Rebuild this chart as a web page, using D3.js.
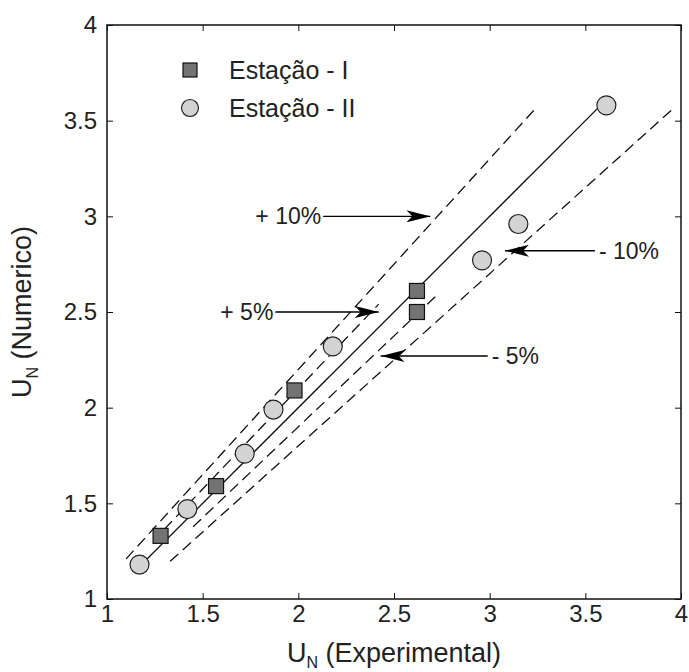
<!DOCTYPE html>
<html>
<head>
<meta charset="utf-8">
<script src="https://cdn.jsdelivr.net/npm/d3@7"></script>
<style>
  body { margin: 0; background: #fff; }
  text { font-family: "Liberation Sans", Arial, sans-serif; fill: #222; }
</style>
</head>
<body>
<svg id="svg1" width="689" height="672"></svg>
<script>
// Estação - I (squares)
var est1X = [1.28, 1.57, 1.98, 2.62, 2.62];
var est1Y = [1.33, 1.59, 2.09, 2.61, 2.50];
// Estação - II (circles)
var est2X = [1.17, 1.42, 1.72, 1.87, 2.18, 2.96, 3.15, 3.61];
var est2Y = [1.18, 1.47, 1.76, 1.99, 2.32, 2.77, 2.96, 3.58];

// reference lines y = k * x
var lineNames = ["+10%", "+5%", "0", "-5%", "-10%"];
var lineFactor = [1.10, 1.05, 1.00, 0.95, 0.90];
var lineFrom = [1.10, 1.30, 1.17, 1.45, 1.33];
var lineTo = [3.23, 2.42, 3.61, 2.72, 3.97];

// annotation arrows
var arrowText = ["+ 10%", "+ 5%", "- 10%", "- 5%"];
var arrowY = [3.0, 2.5, 2.82, 2.27];
var arrowStart = [2.13, 1.88, 3.55, 2.99];
var arrowTip = [2.69, 2.42, 3.08, 2.43];

var ticks = [1, 1.5, 2, 2.5, 3, 3.5, 4];

var svg = d3.select("#svg1"),
    margin = { top: 25, right: 8, bottom: 73, left: 107 },
    width = +svg.attr("width") - margin.left - margin.right,
    height = +svg.attr("height") - margin.top - margin.bottom,
    g = svg.append("g").attr("transform", "translate(" + margin.left + "," + margin.top + ")");

var x = d3.scaleLinear().domain([1, 4]).range([0, width]);
var y = d3.scaleLinear().domain([1, 4]).range([height, 0]);

function styleAxis(sel, hideText) {
    sel.select(".domain").remove();
    sel.selectAll(".tick line").attr("stroke", "#111");
    sel.selectAll(".tick text").style("font-size", "24px").attr("fill", "#222");
    if (hideText) sel.selectAll(".tick text").remove();
}

g.append("g")
    .attr("transform", "translate(0," + height + ")")
    .call(d3.axisBottom(x).tickValues(ticks).tickSize(-6).tickPadding(6).tickFormat(d3.format("")))
    .call(styleAxis, false);

g.append("g")
    .call(d3.axisLeft(y).tickValues(ticks).tickSize(-6).tickPadding(10).tickFormat(d3.format("")))
    .call(styleAxis, false);

g.append("g")
    .call(d3.axisTop(x).tickValues(ticks).tickSize(-6))
    .call(styleAxis, true);

g.append("g")
    .attr("transform", "translate(" + width + ",0)")
    .call(d3.axisRight(y).tickValues(ticks).tickSize(-6))
    .call(styleAxis, true);

g.append("rect")
    .attr("width", width)
    .attr("height", height)
    .attr("fill", "none")
    .attr("stroke", "#111")
    .attr("stroke-width", 1.5);

// reference lines
var lines = lineNames.map(function (n, i) {
    return { name: n, k: lineFactor[i], x0: lineFrom[i], x1: lineTo[i] };
});
g.selectAll(".ref")
    .data(lines)
    .enter().append("line")
    .attr("class", "ref")
    .attr("x1", function (d) { return x(d.x0); })
    .attr("y1", function (d) { return y(d.k * d.x0); })
    .attr("x2", function (d) { return x(d.x1); })
    .attr("y2", function (d) { return y(d.k * d.x1); })
    .attr("stroke", "#111")
    .attr("stroke-width", 1.3)
    .attr("stroke-dasharray", function (d) { return d.k === 1 ? null : "11,6"; });

// arrows
svg.append("defs").append("marker")
    .attr("id", "head")
    .attr("viewBox", "0 0 24 12")
    .attr("refX", 24)
    .attr("refY", 6)
    .attr("markerWidth", 24)
    .attr("markerHeight", 12)
    .attr("markerUnits", "userSpaceOnUse")
    .attr("orient", "auto")
    .append("path")
    .attr("d", "M0,0 L24,6 L0,12 L6,6 Z")
    .attr("fill", "#000");

var arrows = arrowText.map(function (t, i) {
    return { text: t, y: arrowY[i], start: arrowStart[i], tip: arrowTip[i] };
});

g.selectAll(".arrow")
    .data(arrows)
    .enter().append("line")
    .attr("class", "arrow")
    .attr("x1", function (d) { return x(d.start); })
    .attr("x2", function (d) { return x(d.tip); })
    .attr("y1", function (d) { return y(d.y); })
    .attr("y2", function (d) { return y(d.y); })
    .attr("stroke", "#000")
    .attr("stroke-width", 1.3)
    .attr("marker-end", "url(#head)");

g.selectAll(".arrowlabel")
    .data(arrows)
    .enter().append("text")
    .attr("class", "arrowlabel")
    .attr("x", function (d) { return d.tip > d.start ? x(d.start) - 2 : x(d.start) + 4; })
    .attr("y", function (d) { return y(d.y); })
    .attr("dy", "0.35em")
    .attr("text-anchor", function (d) { return d.tip > d.start ? "end" : "start"; })
    .style("font-size", "23px")
    .text(function (d) { return d.text; });

// points
var pts1 = est1X.map(function (v, i) { return { x: v, y: est1Y[i] }; });
var pts2 = est2X.map(function (v, i) { return { x: v, y: est2Y[i] }; });
var sq = 15;

g.selectAll(".sq")
    .data(pts1)
    .enter().append("rect")
    .attr("class", "sq")
    .attr("x", function (d) { return x(d.x) - sq / 2; })
    .attr("y", function (d) { return y(d.y) - sq / 2; })
    .attr("width", sq)
    .attr("height", sq)
    .attr("fill", "#737373")
    .attr("stroke", "#111")
    .attr("stroke-width", 1.2);

g.selectAll(".circ")
    .data(pts2)
    .enter().append("circle")
    .attr("class", "circ")
    .attr("cx", function (d) { return x(d.x); })
    .attr("cy", function (d) { return y(d.y); })
    .attr("r", 9.5)
    .attr("fill", "#d3d3d3")
    .attr("stroke", "#222")
    .attr("stroke-width", 1.2);

// legend
var leg = g.append("g").attr("transform", "translate(83,45)");
leg.append("rect")
    .attr("x", -7).attr("y", -7).attr("width", 14).attr("height", 14)
    .attr("fill", "#737373").attr("stroke", "#111").attr("stroke-width", 1.2);
leg.append("circle")
    .attr("cx", 0).attr("cy", 38).attr("r", 8.5)
    .attr("fill", "#d3d3d3").attr("stroke", "#222").attr("stroke-width", 1.2);
leg.append("text").attr("x", 39).attr("y", 0).attr("dy", "0.35em")
    .style("font-size", "25px").text("Estação - I");
leg.append("text").attr("x", 39).attr("y", 38).attr("dy", "0.35em")
    .style("font-size", "25px").text("Estação - II");

// axis titles
var xt = svg.append("text")
    .attr("x", margin.left + width / 2)
    .attr("y", 662)
    .attr("text-anchor", "middle")
    .style("font-size", "27px");
xt.append("tspan").text("U");
xt.append("tspan").attr("dy", 6).style("font-size", "16px").text("N");
xt.append("tspan").attr("dy", -6).text(" (Experimental)");

var yt = svg.append("text")
    .attr("transform", "translate(31," + (margin.top + height / 2) + ") rotate(-90)")
    .attr("text-anchor", "middle")
    .style("font-size", "27px");
yt.append("tspan").text("U");
yt.append("tspan").attr("dy", 7).style("font-size", "16px").text("N");
yt.append("tspan").attr("dy", -7).text(" (Numerico)");
</script>
</body>
</html>
